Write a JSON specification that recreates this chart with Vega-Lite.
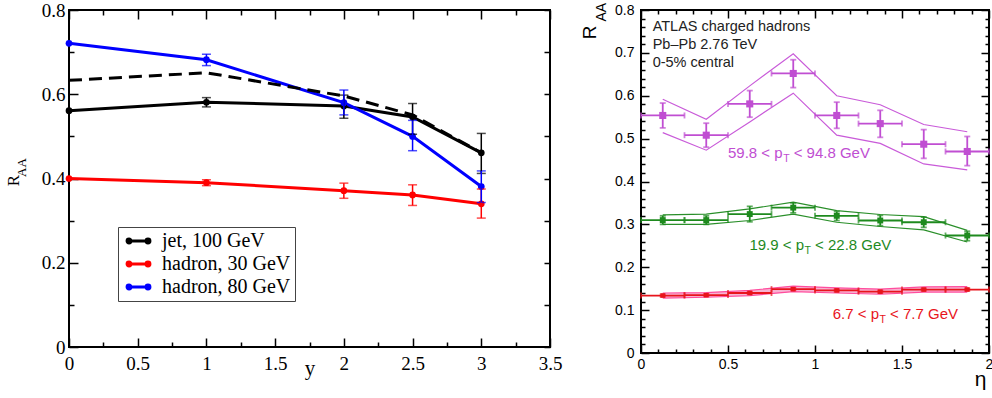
{
  "$schema": "https://vega.github.io/schema/vega-lite/v6.json",
  "background": "white",
  "padding": {"left": 3, "top": 0, "right": 0, "bottom": 0},
  "datasets": {
    "L": [
      {"series": "jet, 100 GeV", "y": 0, "v": 0.561, "lo": null, "hi": null},
      {"series": "jet, 100 GeV", "y": 1, "v": 0.581, "lo": 0.570, "hi": 0.592},
      {"series": "jet, 100 GeV", "y": 2, "v": 0.572, "lo": 0.543, "hi": 0.598},
      {"series": "jet, 100 GeV", "y": 2.5, "v": 0.546, "lo": 0.505, "hi": 0.578},
      {"series": "jet, 100 GeV", "y": 3, "v": 0.461, "lo": 0.412, "hi": 0.507},
      {"series": "hadron, 30 GeV", "y": 0, "v": 0.400, "lo": null, "hi": null},
      {"series": "hadron, 30 GeV", "y": 1, "v": 0.390, "lo": 0.383, "hi": 0.397},
      {"series": "hadron, 30 GeV", "y": 2, "v": 0.371, "lo": 0.353, "hi": 0.389},
      {"series": "hadron, 30 GeV", "y": 2.5, "v": 0.361, "lo": 0.336, "hi": 0.385},
      {"series": "hadron, 30 GeV", "y": 3, "v": 0.340, "lo": 0.306, "hi": 0.375},
      {"series": "hadron, 80 GeV", "y": 0, "v": 0.721, "lo": null, "hi": null},
      {"series": "hadron, 80 GeV", "y": 1, "v": 0.682, "lo": 0.668, "hi": 0.695},
      {"series": "hadron, 80 GeV", "y": 2, "v": 0.580, "lo": 0.551, "hi": 0.610},
      {"series": "hadron, 80 GeV", "y": 2.5, "v": 0.500, "lo": 0.466, "hi": 0.538},
      {"series": "hadron, 80 GeV", "y": 3, "v": 0.381, "lo": 0.343, "hi": 0.418}
    ],
    "D": [
      {"y": 0, "v": 0.633}, {"y": 1, "v": 0.651}, {"y": 2, "v": 0.596}, {"y": 2.5, "v": 0.551}, {"y": 3, "v": 0.461}
    ],
    "LT": [
      {"t": "R", "x": -0.364, "v": 0.395},
      {"t": "AA", "x": -0.313, "v": 0.426}
    ],
    "R": [
      {"s": "m", "eta": 0.125, "v": 0.554, "vlo": 0.525, "vhi": 0.583, "elo": 0.0, "ehi": 0.25, "blo": 0.514, "bhi": 0.592},
      {"s": "m", "eta": 0.375, "v": 0.508, "vlo": 0.480, "vhi": 0.536, "elo": 0.25, "ehi": 0.5, "blo": 0.473, "bhi": 0.545},
      {"s": "m", "eta": 0.625, "v": 0.581, "vlo": 0.550, "vhi": 0.612, "elo": 0.5, "ehi": 0.75, "blo": 0.539, "bhi": 0.623},
      {"s": "m", "eta": 0.875, "v": 0.652, "vlo": 0.619, "vhi": 0.684, "elo": 0.75, "ehi": 1.0, "blo": 0.606, "bhi": 0.698},
      {"s": "m", "eta": 1.125, "v": 0.554, "vlo": 0.524, "vhi": 0.585, "elo": 1.0, "ehi": 1.25, "blo": 0.508, "bhi": 0.600},
      {"s": "m", "eta": 1.375, "v": 0.535, "vlo": 0.503, "vhi": 0.566, "elo": 1.25, "ehi": 1.5, "blo": 0.489, "bhi": 0.579},
      {"s": "m", "eta": 1.625, "v": 0.487, "vlo": 0.454, "vhi": 0.521, "elo": 1.5, "ehi": 1.75, "blo": 0.441, "bhi": 0.533},
      {"s": "m", "eta": 1.875, "v": 0.470, "vlo": 0.437, "vhi": 0.505, "elo": 1.75, "ehi": 2.0, "blo": 0.427, "bhi": 0.516},
      {"s": "g", "eta": 0.125, "v": 0.310, "vlo": 0.300, "vhi": 0.320, "elo": 0.0, "ehi": 0.25, "blo": 0.300, "bhi": 0.322},
      {"s": "g", "eta": 0.375, "v": 0.310, "vlo": 0.300, "vhi": 0.320, "elo": 0.25, "ehi": 0.5, "blo": 0.300, "bhi": 0.324},
      {"s": "g", "eta": 0.625, "v": 0.324, "vlo": 0.306, "vhi": 0.342, "elo": 0.5, "ehi": 0.75, "blo": 0.309, "bhi": 0.336},
      {"s": "g", "eta": 0.875, "v": 0.339, "vlo": 0.327, "vhi": 0.350, "elo": 0.75, "ehi": 1.0, "blo": 0.324, "bhi": 0.352},
      {"s": "g", "eta": 1.125, "v": 0.320, "vlo": 0.309, "vhi": 0.330, "elo": 1.0, "ehi": 1.25, "blo": 0.305, "bhi": 0.332},
      {"s": "g", "eta": 1.375, "v": 0.309, "vlo": 0.297, "vhi": 0.321, "elo": 1.25, "ehi": 1.5, "blo": 0.295, "bhi": 0.323},
      {"s": "g", "eta": 1.625, "v": 0.305, "vlo": 0.293, "vhi": 0.317, "elo": 1.5, "ehi": 1.75, "blo": 0.287, "bhi": 0.318},
      {"s": "g", "eta": 1.875, "v": 0.274, "vlo": 0.262, "vhi": 0.284, "elo": 1.75, "ehi": 2.0, "blo": 0.259, "bhi": 0.286},
      {"s": "r", "eta": 0.125, "v": 0.134, "vlo": 0.131, "vhi": 0.137, "elo": 0.0, "ehi": 0.25, "blo": 0.128, "bhi": 0.140},
      {"s": "r", "eta": 0.375, "v": 0.135, "vlo": 0.132, "vhi": 0.138, "elo": 0.25, "ehi": 0.5, "blo": 0.130, "bhi": 0.141},
      {"s": "r", "eta": 0.625, "v": 0.140, "vlo": 0.137, "vhi": 0.143, "elo": 0.5, "ehi": 0.75, "blo": 0.134, "bhi": 0.146},
      {"s": "r", "eta": 0.875, "v": 0.149, "vlo": 0.146, "vhi": 0.152, "elo": 0.75, "ehi": 1.0, "blo": 0.143, "bhi": 0.156},
      {"s": "r", "eta": 1.125, "v": 0.146, "vlo": 0.143, "vhi": 0.149, "elo": 1.0, "ehi": 1.25, "blo": 0.140, "bhi": 0.152},
      {"s": "r", "eta": 1.375, "v": 0.143, "vlo": 0.140, "vhi": 0.146, "elo": 1.25, "ehi": 1.5, "blo": 0.137, "bhi": 0.149},
      {"s": "r", "eta": 1.625, "v": 0.148, "vlo": 0.145, "vhi": 0.151, "elo": 1.5, "ehi": 1.75, "blo": 0.142, "bhi": 0.154},
      {"s": "r", "eta": 1.875, "v": 0.148, "vlo": 0.145, "vhi": 0.151, "elo": 1.75, "ehi": 2.0, "blo": 0.142, "bhi": 0.155}
    ],
    "RT": [
      {"t": "ATLAS charged hadrons", "eta": 0.067, "v": 0.752},
      {"t": "Pb–Pb 2.76 TeV", "eta": 0.067, "v": 0.710},
      {"t": "0-5% central", "eta": 0.067, "v": 0.667}
    ],
    "PT": [
      {"s": "m", "a": "59.8 < p", "b": "T", "c": "< 94.8 GeV", "eta": 0.814, "v": 0.4537},
      {"s": "g", "a": "19.9 < p", "b": "T", "c": "< 22.8 GeV", "eta": 0.937, "v": 0.240},
      {"s": "r", "a": "6.7 < p", "b": "T", "c": "< 7.7 GeV", "eta": 1.368, "v": 0.0789}
    ],
    "RA": [
      {"t": "R", "eta": -0.26, "v": 0.748},
      {"t": "AA", "eta": -0.203, "v": 0.795}
    ]
  },
  "resolve": {"scale": {"color": "independent"}},
  "spacing": 16,
  "hconcat": [
    {
      "width": 481,
      "height": 337,
      "resolve": {"axis": {"x": "independent", "y": "independent"}},
      "layer": [
        {
          "data": {"name": "L"},
          "mark": {"type": "line", "strokeWidth": 3, "point": {"filled": true, "size": 45}},
          "encoding": {
            "x": {"field": "y", "type": "quantitative", "scale": {"domain": [0, 3.5], "nice": false, "zero": false},
              "axis": {"orient": "bottom", "values": [0, 0.25, 0.5, 0.75, 1, 1.25, 1.5, 1.75, 2, 2.25, 2.5, 2.75, 3, 3.25, 3.5],
                "labelExpr": "datum.value % 0.5 === 0 ? format(datum.value, '~g') : ''",
                "tickSize": {"condition": {"test": "datum.value % 0.5 === 0", "value": -9}, "value": -5},
                "labelPadding": 16, "labelFont": "Liberation Serif", "labelFontSize": 19,
                "title": "y", "titleFont": "Liberation Serif", "titleFontSize": 21, "titleFontWeight": "normal", "titlePadding": -20}},
            "y": {"field": "v", "type": "quantitative", "scale": {"domain": [0, 0.8], "nice": false},
              "axis": {"orient": "left", "values": [0, 0.1, 0.2, 0.3, 0.4, 0.5, 0.6, 0.7, 0.8],
                "labelExpr": "round(datum.value * 10) % 2 === 0 ? format(datum.value, '~g') : ''",
                "tickSize": {"condition": {"test": "round(datum.value * 10) % 2 === 0", "value": -9}, "value": -5},
                "labelPadding": 13, "labelFont": "Liberation Serif", "labelFontSize": 19, "title": null}},
            "color": {"field": "series", "type": "nominal",
              "scale": {"domain": ["jet, 100 GeV", "hadron, 30 GeV", "hadron, 80 GeV"], "range": ["#000000", "#ff0000", "#0000ff"]},
              "legend": {"orient": "none", "legendX": 49, "legendY": 217, "title": null,
                "labelFont": "Liberation Serif", "labelFontSize": 20, "labelColor": "black", "labelOffset": 20,
                "symbolType": "M-0.9,0 L2.9,0 M-0.16,0 A0.3,0.3 0 1,1 -0.76,0 A0.3,0.3 0 1,1 -0.16,0 M2.76,0 A0.3,0.3 0 1,1 2.16,0 A0.3,0.3 0 1,1 2.76,0",
                "symbolSize": 169, "symbolStrokeWidth": 3,
                "fillColor": "white", "strokeColor": "#444444", "padding": 4, "rowPadding": 3}}
          }
        },
        {
          "data": {"name": "D"},
          "mark": {"type": "line", "strokeWidth": 3, "color": "black", "strokeDash": [13, 7]},
          "encoding": {
            "x": {"field": "y", "type": "quantitative", "axis": null},
            "y": {"field": "v", "type": "quantitative", "axis": null}
          }
        },
        {
          "data": {"name": "L"},
          "transform": [{"filter": "datum.lo != null"}],
          "mark": {"type": "errorbar", "ticks": {"size": 9}, "thickness": 1.5},
          "encoding": {
            "x": {"field": "y", "type": "quantitative", "axis": null},
            "y": {"field": "lo", "type": "quantitative", "axis": null},
            "y2": {"field": "hi"},
            "color": {"field": "series", "type": "nominal", "legend": null}
          }
        },
        {
          "data": {"name": "LT"},
          "transform": [{"filter": "datum.t == 'R'"}],
          "mark": {"type": "text", "angle": 270, "font": "Liberation Serif", "fontSize": 17, "baseline": "alphabetic", "align": "center", "color": "black"},
          "encoding": {
            "x": {"field": "x", "type": "quantitative", "axis": null},
            "y": {"field": "v", "type": "quantitative", "axis": null},
            "text": {"field": "t"}
          }
        },
        {
          "data": {"name": "LT"},
          "transform": [{"filter": "datum.t == 'AA'"}],
          "mark": {"type": "text", "angle": 270, "font": "Liberation Serif", "fontSize": 13, "baseline": "alphabetic", "align": "center", "color": "black"},
          "encoding": {
            "x": {"field": "x", "type": "quantitative", "axis": null},
            "y": {"field": "v", "type": "quantitative", "axis": null},
            "text": {"field": "t"}
          }
        },
        {
          "data": {"name": "D"},
          "mark": {"type": "point", "opacity": 0},
          "encoding": {
            "x": {"field": "y", "type": "quantitative",
              "axis": {"orient": "top", "labels": false, "title": null, "values": [0, 0.25, 0.5, 0.75, 1, 1.25, 1.5, 1.75, 2, 2.25, 2.5, 2.75, 3, 3.25, 3.5],
                "tickSize": {"condition": {"test": "datum.value % 0.5 === 0", "value": -9}, "value": -5}}},
            "y": {"field": "v", "type": "quantitative",
              "axis": {"orient": "right", "labels": false, "title": null, "values": [0, 0.1, 0.2, 0.3, 0.4, 0.5, 0.6, 0.7, 0.8],
                "tickSize": -6}}
          }
        }
      ]
    },
    {
      "width": 348,
      "height": 343,
      "resolve": {"axis": {"x": "independent", "y": "independent"}},
      "layer": [
        {
          "data": {"name": "R"},
          "transform": [{"filter": "datum.s == 'r'"}],
          "mark": {"type": "area", "color": "#f7a3c9", "opacity": 0.85},
          "encoding": {
            "x": {"field": "eta", "type": "quantitative", "scale": {"domain": [0, 2], "nice": false, "zero": false}, "axis": null},
            "y": {"field": "blo", "type": "quantitative", "scale": {"domain": [0, 0.8], "nice": false}, "axis": null},
            "y2": {"field": "bhi"}
          }
        },
        {
          "data": {"name": "R"},
          "mark": {"type": "line", "strokeWidth": 1.2},
          "encoding": {
            "x": {"field": "eta", "type": "quantitative", "axis": null},
            "y": {"field": "blo", "type": "quantitative", "axis": null},
            "stroke": {"field": "s", "type": "nominal", "scale": {"domain": ["m", "g", "r"], "range": ["#c95bd9", "#2a8f2a", "#ff4d9e"]}, "legend": null}
          }
        },
        {
          "data": {"name": "R"},
          "mark": {"type": "line", "strokeWidth": 1.2},
          "encoding": {
            "x": {"field": "eta", "type": "quantitative", "axis": null},
            "y": {"field": "bhi", "type": "quantitative", "axis": null},
            "stroke": {"field": "s", "type": "nominal", "legend": null}
          }
        },
        {
          "data": {"name": "R"},
          "mark": {"type": "errorbar", "ticks": {"size": 6}, "thickness": 1.8},
          "encoding": {
            "x": {"field": "elo", "type": "quantitative", "axis": null},
            "x2": {"field": "ehi"},
            "y": {"field": "v", "type": "quantitative", "axis": null},
            "color": {"field": "s", "type": "nominal", "scale": {"domain": ["m", "g", "r"], "range": ["#c04ed2", "#1e8a1e", "#e8141c"]}, "legend": null}
          }
        },
        {
          "data": {"name": "R"},
          "mark": {"type": "errorbar", "ticks": {"size": 6}, "thickness": 1.8},
          "encoding": {
            "x": {"field": "eta", "type": "quantitative", "axis": null},
            "y": {"field": "vlo", "type": "quantitative", "axis": null},
            "y2": {"field": "vhi"},
            "color": {"field": "s", "type": "nominal", "legend": null}
          }
        },
        {
          "data": {"name": "R"},
          "mark": {"type": "point", "shape": "square", "filled": true, "opacity": 1},
          "encoding": {
            "x": {"field": "eta", "type": "quantitative",
              "axis": {"orient": "bottom", "values": [0, 0.1, 0.2, 0.3, 0.4, 0.5, 0.6, 0.7, 0.8, 0.9, 1, 1.1, 1.2, 1.3, 1.4, 1.5, 1.6, 1.7, 1.8, 1.9, 2],
                "labelExpr": "abs(datum.value * 2 - round(datum.value * 2)) < 0.000001 ? format(datum.value, '~g') : ''",
                "tickSize": {"condition": {"test": "abs(datum.value * 2 - round(datum.value * 2)) < 0.000001", "value": -8}, "value": -4},
                "labelPadding": 12, "labelFont": "Liberation Sans", "labelFontSize": 14,
                "title": "η", "titleFont": "Liberation Sans", "titleFontSize": 21, "titleFontWeight": "normal",
                "titleAlign": "right", "titleBaseline": "alphabetic", "titleX": 345, "titleY": 32}},
            "y": {"field": "v", "type": "quantitative",
              "axis": {"orient": "left", "values": [0, 0.02, 0.04, 0.06, 0.08, 0.1, 0.12, 0.14, 0.16, 0.18, 0.2, 0.22, 0.24, 0.26, 0.28, 0.3, 0.32, 0.34, 0.36, 0.38, 0.4, 0.42, 0.44, 0.46, 0.48, 0.5, 0.52, 0.54, 0.56, 0.58, 0.6, 0.62, 0.64, 0.66, 0.68, 0.7, 0.72, 0.74, 0.76, 0.78, 0.8],
                "labelExpr": "abs(datum.value * 10 - round(datum.value * 10)) < 0.000001 ? format(datum.value, '~g') : ''",
                "tickSize": {"condition": {"test": "abs(datum.value * 10 - round(datum.value * 10)) < 0.000001", "value": -8}, "value": -4},
                "labelPadding": 15, "labelFont": "Liberation Sans", "labelFontSize": 14, "title": null}},
            "color": {"field": "s", "type": "nominal", "legend": null},
            "size": {"field": "s", "type": "nominal", "scale": {"domain": ["m", "g", "r"], "range": [50, 20, 30]}, "legend": null}
          }
        },
        {
          "data": {"name": "RT"},
          "mark": {"type": "text", "font": "Liberation Sans", "fontSize": 14.5, "align": "left", "baseline": "alphabetic", "color": "#222222"},
          "encoding": {
            "x": {"field": "eta", "type": "quantitative", "axis": null},
            "y": {"field": "v", "type": "quantitative", "axis": null},
            "text": {"field": "t"}
          }
        },
        {
          "data": {"name": "PT"},
          "mark": {"type": "text", "font": "Liberation Sans", "fontSize": 15, "align": "right", "baseline": "alphabetic"},
          "encoding": {
            "x": {"field": "eta", "type": "quantitative", "axis": null},
            "y": {"field": "v", "type": "quantitative", "axis": null},
            "text": {"field": "a"},
            "color": {"field": "s", "type": "nominal", "legend": null}
          }
        },
        {
          "data": {"name": "PT"},
          "mark": {"type": "text", "font": "Liberation Sans", "fontSize": 10.5, "align": "left", "baseline": "alphabetic", "dx": 0.5, "dy": 4},
          "encoding": {
            "x": {"field": "eta", "type": "quantitative", "axis": null},
            "y": {"field": "v", "type": "quantitative", "axis": null},
            "text": {"field": "b"},
            "color": {"field": "s", "type": "nominal", "legend": null}
          }
        },
        {
          "data": {"name": "PT"},
          "mark": {"type": "text", "font": "Liberation Sans", "fontSize": 15, "align": "left", "baseline": "alphabetic", "dx": 11},
          "encoding": {
            "x": {"field": "eta", "type": "quantitative", "axis": null},
            "y": {"field": "v", "type": "quantitative", "axis": null},
            "text": {"field": "c"},
            "color": {"field": "s", "type": "nominal", "legend": null}
          }
        },
        {
          "data": {"name": "RA"},
          "transform": [{"filter": "datum.t == 'R'"}],
          "mark": {"type": "text", "angle": 270, "font": "Liberation Sans", "fontSize": 19, "baseline": "alphabetic", "align": "center", "color": "black"},
          "encoding": {
            "x": {"field": "eta", "type": "quantitative", "axis": null},
            "y": {"field": "v", "type": "quantitative", "axis": null},
            "text": {"field": "t"}
          }
        },
        {
          "data": {"name": "RA"},
          "transform": [{"filter": "datum.t == 'AA'"}],
          "mark": {"type": "text", "angle": 270, "font": "Liberation Sans", "fontSize": 14, "baseline": "alphabetic", "align": "center", "color": "black"},
          "encoding": {
            "x": {"field": "eta", "type": "quantitative", "axis": null},
            "y": {"field": "v", "type": "quantitative", "axis": null},
            "text": {"field": "t"}
          }
        },
        {
          "data": {"name": "RT"},
          "mark": {"type": "point", "opacity": 0},
          "encoding": {
            "x": {"field": "eta", "type": "quantitative",
              "axis": {"orient": "top", "labels": false, "title": null, "values": [0, 0.1, 0.2, 0.3, 0.4, 0.5, 0.6, 0.7, 0.8, 0.9, 1, 1.1, 1.2, 1.3, 1.4, 1.5, 1.6, 1.7, 1.8, 1.9, 2],
                "tickSize": {"condition": {"test": "abs(datum.value * 2 - round(datum.value * 2)) < 0.000001", "value": -8}, "value": -4}}},
            "y": {"field": "v", "type": "quantitative",
              "axis": {"orient": "right", "labels": false, "title": null, "values": [0, 0.02, 0.04, 0.06, 0.08, 0.1, 0.12, 0.14, 0.16, 0.18, 0.2, 0.22, 0.24, 0.26, 0.28, 0.3, 0.32, 0.34, 0.36, 0.38, 0.4, 0.42, 0.44, 0.46, 0.48, 0.5, 0.52, 0.54, 0.56, 0.58, 0.6, 0.62, 0.64, 0.66, 0.68, 0.7, 0.72, 0.74, 0.76, 0.78, 0.8],
                "tickSize": {"condition": {"test": "abs(datum.value * 10 - round(datum.value * 10)) < 0.000001", "value": -8}, "value": -4}}}
          }
        }
      ]
    }
  ],
  "config": {
    "view": {"stroke": "black", "strokeWidth": 2},
    "axis": {"grid": false, "domain": false, "tickColor": "black", "tickWidth": 1.5, "labelColor": "black", "titleColor": "black", "labelFlush": false, "labelOverlap": false, "labelBound": false}
  }
}
